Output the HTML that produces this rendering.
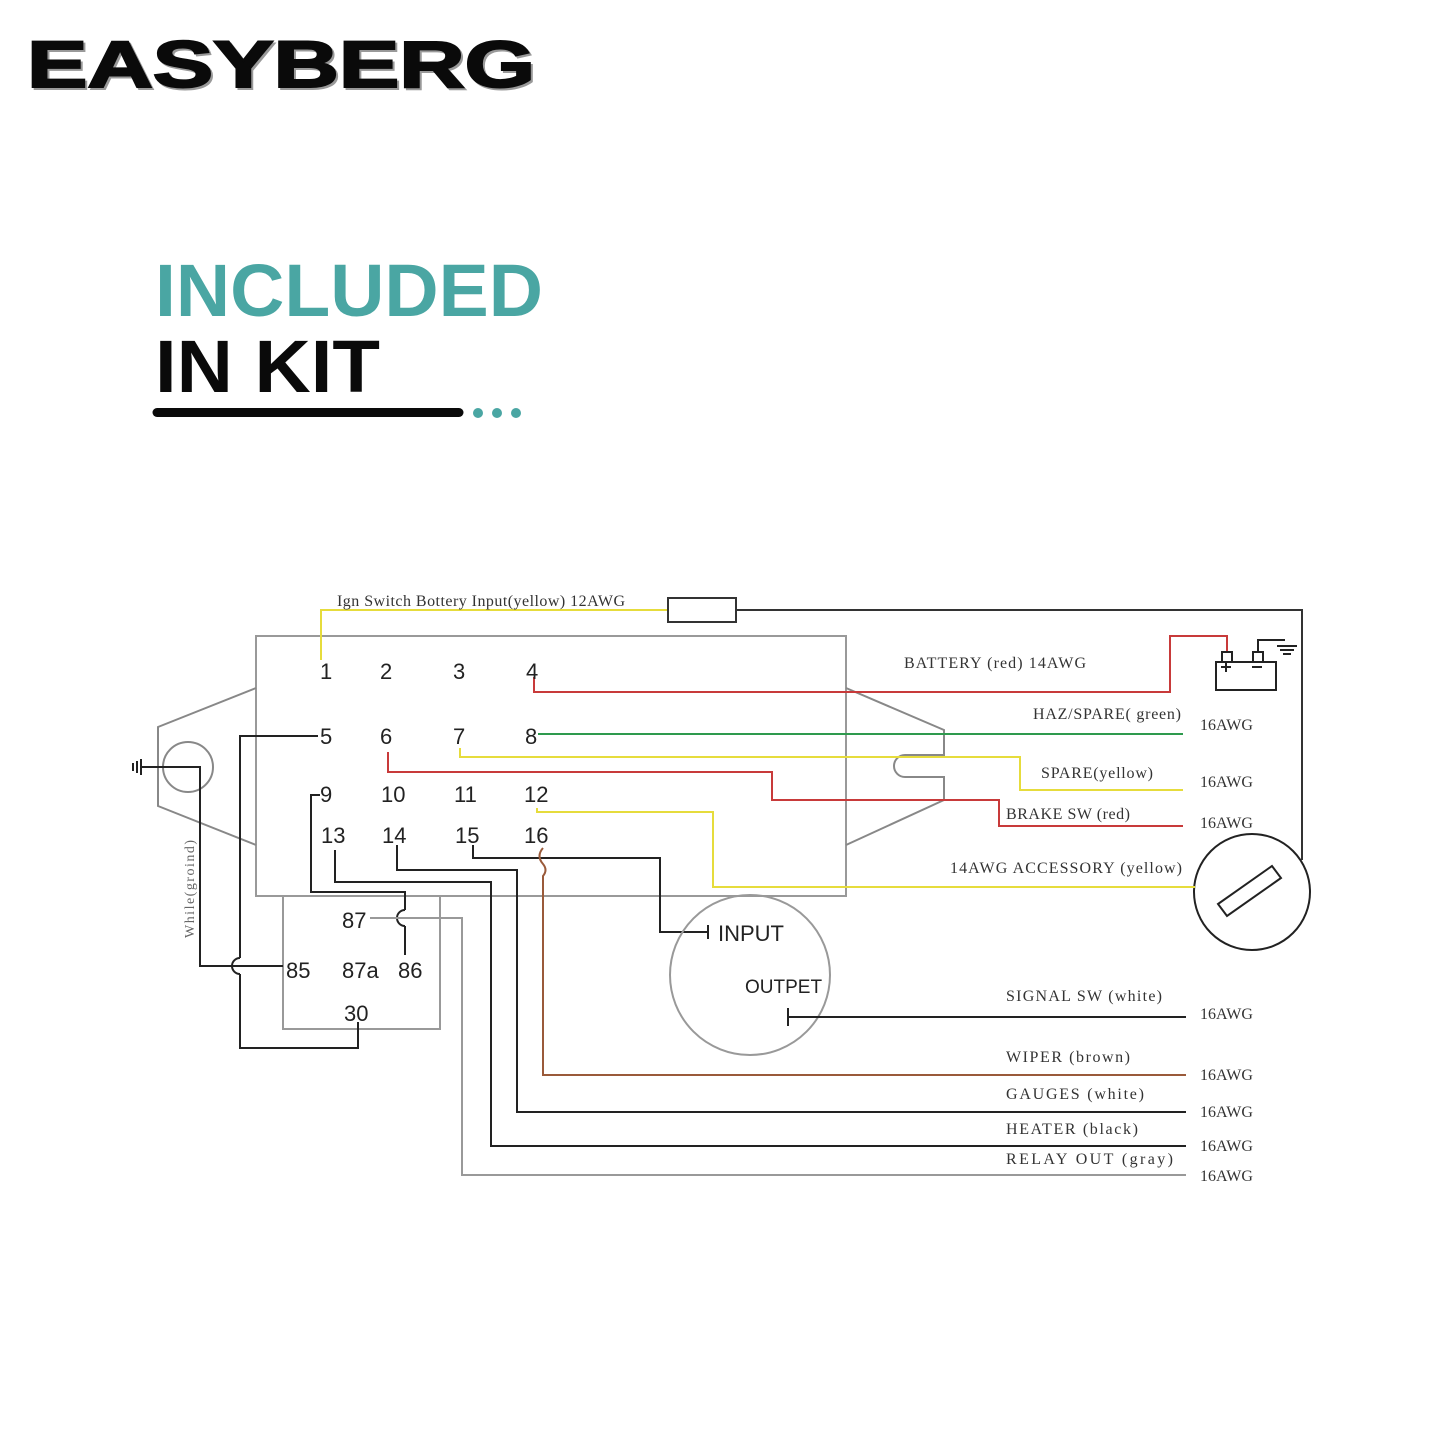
<!DOCTYPE html>
<html><head><meta charset="utf-8"><style>
html,body{margin:0;padding:0;background:#fff}
svg{display:block}
.n{font-family:"Liberation Sans",sans-serif;font-size:22px;fill:#222}
.s{font-family:"Liberation Serif",serif;font-size:16px;fill:#333}
</style></head><body>
<svg width="1445" height="1445" viewBox="0 0 1445 1445" xmlns="http://www.w3.org/2000/svg">
<rect width="1445" height="1445" fill="#fff"/>
<!-- logo -->
<text x="29" y="89" font-family="Liberation Sans,sans-serif" font-weight="bold" font-size="66" fill="#999" stroke="#999" stroke-width="2" textLength="508" lengthAdjust="spacingAndGlyphs">EASYBERG</text>
<text x="27" y="87" font-family="Liberation Sans,sans-serif" font-weight="bold" font-size="66" fill="#0a0a0a" stroke="#0a0a0a" stroke-width="2" textLength="508" lengthAdjust="spacingAndGlyphs">EASYBERG</text>
<text x="155" y="316" font-family="Liberation Sans,sans-serif" font-weight="bold" font-size="74" fill="#4aa6a3" textLength="388" lengthAdjust="spacingAndGlyphs">INCLUDED</text>
<text x="155" y="392" font-family="Liberation Sans,sans-serif" font-weight="bold" font-size="74" fill="#0a0a0a" textLength="225" lengthAdjust="spacingAndGlyphs">IN KIT</text>
<line x1="157" y1="412.5" x2="459" y2="412.5" stroke="#0a0a0a" stroke-width="9" stroke-linecap="round"/>
<circle cx="478" cy="413" r="5" fill="#4aa6a3"/><circle cx="497" cy="413" r="5" fill="#4aa6a3"/><circle cx="516" cy="413" r="5" fill="#4aa6a3"/>

<g fill="none" stroke-width="2">
<rect x="256" y="636" width="590" height="260" stroke="#999"/>
<rect x="283" y="896" width="157" height="133" stroke="#999"/>
<polyline points="256,688 158,727 158,806 256,845" stroke="#888"/>
<circle cx="188" cy="767" r="25" stroke="#888"/>
<path d="M846,688 L944,730 L944,755 L905,755 A11,11 0 0 0 905,777 L944,777 L944,800 L846,845" stroke="#888"/>
<polyline points="321,660 321,610 668,610" stroke="#e6dc3c"/>
<rect x="668" y="598" width="68" height="24" stroke="#333"/>
<polyline points="736,610 1302,610 1302,860" stroke="#333"/>
<circle cx="1252" cy="892" r="58" stroke="#222"/>
<polygon points="1218,904 1272,866 1281,878 1227,916" stroke="#222"/>
<polyline points="534,677 534,692 1170,692 1170,636 1227,636 1227,652" stroke="#c83a3a"/>
<rect x="1216" y="662" width="60" height="28" stroke="#222"/>
<rect x="1222" y="652" width="10" height="10" stroke="#222"/>
<rect x="1253" y="652" width="10" height="10" stroke="#222"/>
<polyline points="1258,652 1258,640 1285,640" stroke="#222"/>
<line x1="1277" y1="646" x2="1297" y2="646" stroke="#222"/>
<line x1="1280" y1="650" x2="1294" y2="650" stroke="#222"/>
<line x1="1283" y1="654" x2="1291" y2="654" stroke="#222"/>
<path d="M1221,667 h10 M1226,662 v10 M1252,667 h10" stroke="#222"/>
<line x1="538" y1="734" x2="1183" y2="734" stroke="#2e9a4e"/>
<polyline points="460,748 460,757 1020,757 1020,790 1183,790" stroke="#e6dc3c"/>
<polyline points="388,752 388,772 772,772 772,800 999,800 999,826 1183,826" stroke="#c83a3a"/>
<polyline points="537,808 537,812 713,812 713,887 1195,887" stroke="#e6dc3c"/>
<polyline points="318,736 240,736 240,958" stroke="#222"/>
<path d="M240,958 A8,8 0 0 0 240,974" stroke="#222"/>
<polyline points="240,974 240,1048 358,1048 358,1022" stroke="#222"/>
<polyline points="141,767 200,767 200,966 283,966" stroke="#222"/>
<path d="M141,759 v16 M137,761 v12 M133,763 v8" stroke="#222"/>
<polyline points="320,795 311,795 311,892 405,892 405,910" stroke="#222"/>
<path d="M405,910 A8,8 0 0 0 405,926" stroke="#222"/>
<polyline points="405,926 405,955" stroke="#222"/>
<polyline points="370,918 462,918 462,1175 1186,1175" stroke="#999"/>
<polyline points="335,850 335,882 491,882 491,1146 1186,1146" stroke="#222"/>
<polyline points="397,845 397,870 517,870 517,1112 1186,1112" stroke="#222"/>
<polyline points="473,845 473,858 660,858 660,932 708,932" stroke="#222"/>
<line x1="708" y1="925" x2="708" y2="939" stroke="#222"/>
<path d="M543,848 Q536,856 543,864 Q548,870 543,876 L543,1075 L1186,1075" stroke="#9a5a3a"/>
<circle cx="750" cy="975" r="80" stroke="#999"/>
<line x1="788" y1="1017" x2="1186" y2="1017" stroke="#222"/>
<line x1="788" y1="1008" x2="788" y2="1026" stroke="#222"/>
</g>

<text class="s" x="337" y="606" font-size="15" textLength="288" lengthAdjust="spacing">Ign Switch Bottery Input(yellow)  12AWG</text>
<g class="n">
<text x="320" y="679">1</text><text x="380" y="679">2</text><text x="453" y="679">3</text><text x="526" y="679">4</text>
<text x="320" y="744">5</text><text x="380" y="744">6</text><text x="453" y="744">7</text><text x="525" y="744">8</text>
<text x="320" y="802">9</text><text x="381" y="802">10</text><text x="454" y="802">11</text><text x="524" y="802">12</text>
<text x="321" y="843">13</text><text x="382" y="843">14</text><text x="455" y="843">15</text><text x="524" y="843">16</text>
<text x="342" y="928">87</text><text x="286" y="978">85</text><text x="342" y="978">87a</text><text x="398" y="978">86</text><text x="344" y="1021">30</text>
<text x="718" y="941">INPUT</text><text x="745" y="993" font-size="19">OUTPET</text>
</g>
<g class="s">
<text x="904" y="668" textLength="182" lengthAdjust="spacing">BATTERY (red)  14AWG</text>
<text x="1033" y="719" textLength="148" lengthAdjust="spacing">HAZ/SPARE( green)</text>
<text x="1041" y="778" textLength="112" lengthAdjust="spacing">SPARE(yellow)</text>
<text x="1006" y="819" textLength="124" lengthAdjust="spacing">BRAKE SW (red)</text>
<text x="950" y="873" textLength="232" lengthAdjust="spacing">14AWG  ACCESSORY   (yellow)</text>
<text x="1006" y="1001" textLength="156" lengthAdjust="spacing">SIGNAL  SW   (white)</text>
<text x="1006" y="1062" textLength="124" lengthAdjust="spacing">WIPER    (brown)</text>
<text x="1006" y="1099" textLength="138" lengthAdjust="spacing">GAUGES     (white)</text>
<text x="1006" y="1134" textLength="132" lengthAdjust="spacing">HEATER    (black)</text>
<text x="1006" y="1164" textLength="167" lengthAdjust="spacing">RELAY   OUT     (gray)</text>
<text x="1200" y="730">16AWG</text><text x="1200" y="787">16AWG</text><text x="1200" y="828">16AWG</text>
<text x="1200" y="1019">16AWG</text><text x="1200" y="1080">16AWG</text><text x="1200" y="1117">16AWG</text>
<text x="1200" y="1151">16AWG</text><text x="1200" y="1181">16AWG</text>
<text transform="translate(194,938) rotate(-90)" font-size="14" fill="#666" textLength="98" lengthAdjust="spacing">While(groind)</text>
</g>
</svg>
</body></html>
